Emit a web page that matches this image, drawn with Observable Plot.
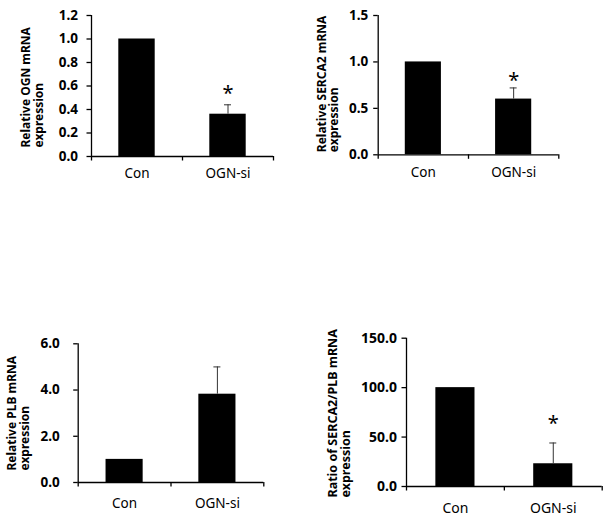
<!DOCTYPE html>
<html>
<head>
<meta charset="utf-8">
<script src="https://cdn.jsdelivr.net/npm/d3@7"></script>
<script src="https://cdn.jsdelivr.net/npm/@observablehq/plot@0.6"></script>
<style>
  html, body { margin: 0; padding: 0; background: #fff; }
  #wrap { position: relative; width: 614px; height: 522px; background: #fff; overflow: hidden; }
  .panel { position: absolute; }
  .panel svg { display: block; }
</style>
</head>
<body>
<div id="wrap"></div>
<script>
// ---- data ----
const categories = ["Con", "OGN-si"];

const ognValues = [1.0, 0.36];
const ognErrors = [0, 0.08];
const ognSignificant = [false, true];
const ognTicks = [0, 0.2, 0.4, 0.6, 0.8, 1.0, 1.2];
const ognTitle = "Relative OGN mRNA\nexpression";

const sercaValues = [1.0, 0.60];
const sercaErrors = [0, 0.12];
const sercaSignificant = [false, true];
const sercaTicks = [0, 0.5, 1.0, 1.5];
const sercaTitle = "Relative SERCA2 mRNA\nexpression";

const plbValues = [1.0, 3.82];
const plbErrors = [0, 1.18];
const plbSignificant = [false, false];
const plbTicks = [0, 2, 4, 6];
const plbTitle = "Relative PLB mRNA\nexpression";

const ratioValues = [100, 23];
const ratioErrors = [0, 21];
const ratioSignificant = [false, true];
const ratioTicks = [0, 50, 100, 150];
const ratioTitle = "Ratio of SERCA2/PLB mRNA\nexpression";

// ---- layout / style ----
const FONT = "'Noto Sans', 'DejaVu Sans', sans-serif";

function panel(cfg) {
  const n = categories.length;
  const rows = categories.map((c, i) => ({
    cat: c, i, value: cfg.values[i], err: cfg.errors[i], sig: cfg.sig[i]
  }));
  const yMax = cfg.ticks[cfg.ticks.length - 1];
  const plot = Plot.plot({
    width: cfg.W, height: cfg.H,
    marginLeft: cfg.ml, marginRight: cfg.mr, marginTop: cfg.mt, marginBottom: cfg.mb,
    style: { fontFamily: FONT, color: "#000", background: "transparent", overflow: "visible" },
    x: { type: "linear", domain: [0, n] },
    y: { type: "linear", domain: [0, yMax] },
    marks: [
      // bars
      Plot.rectY(rows, { x1: d => d.i + 0.3, x2: d => d.i + 0.7, y: "value", fill: "#000" }),
      // error bars (upper only)
      Plot.ruleX(rows.filter(d => d.err > 0), { x: d => d.i + 0.5, y1: "value", y2: d => d.value + d.err, stroke: "#333", strokeWidth: 1 }),
      Plot.ruleY(rows.filter(d => d.err > 0), { y: d => d.value + d.err, x1: d => d.i + 0.5, x2: d => d.i + 0.5, insetLeft: -3.5, insetRight: -3.5, stroke: "#333", strokeWidth: 1 }),
      // significance stars
      Plot.text(rows.filter(d => d.sig), { x: d => d.i + 0.5, y: d => d.value + d.err, text: () => "*", dy: cfg.starDy, fontSize: 20, fontFamily: FONT }),
      // axes lines
      Plot.ruleY([0], { stroke: "#000", strokeWidth: 1.3 }),
      Plot.ruleX([0], { stroke: "#000", strokeWidth: 1.3 }),
      // y ticks + labels
      Plot.axisY(cfg.ticks, { tickSize: 4.5, tickPadding: cfg.tp, tickFormat: d3.format(".1f"), fontWeight: "bold", fontSize: cfg.tickFont, strokeWidth: 1.3, label: null }),
      // x boundary ticks
      Plot.axisX(d3.range(n + 1), { tickSize: 4.5, tickFormat: () => "", strokeWidth: 1.3, label: null }),
      // category labels
      Plot.text(rows, { x: d => d.i + 0.5, frameAnchor: "bottom", text: "cat", lineAnchor: "top", dy: cfg.catDy, fontSize: cfg.catFont, fontFamily: FONT }),
      // y title
      Plot.text([cfg.title], { text: d => d, frameAnchor: "bottom-left", rotate: -90, textAnchor: "start", lineAnchor: "top", lineHeight: cfg.lh, dx: cfg.titleDx, dy: cfg.titleDy, fontWeight: "bold", fontSize: cfg.titleFont, fontFamily: FONT })
    ]
  });
  const div = document.createElement("div");
  div.className = "panel";
  div.style.left = cfg.left + "px";
  div.style.top = cfg.top + "px";
  div.appendChild(plot);
  document.getElementById("wrap").appendChild(div);
}

panel({ values: ognValues, errors: ognErrors, sig: ognSignificant, ticks: ognTicks, title: ognTitle,
  left: 0, top: 0, W: 300, H: 190, ml: 91, mr: 27, mt: 15, mb: 34,
  tp: 9, tickFont: 13.5, catFont: 13.5, catDy: 11.5, titleFont: 12, lh: 1.05, titleDx: -70.5, titleDy: -9, starDy: -11 });

panel({ values: sercaValues, errors: sercaErrors, sig: sercaSignificant, ticks: sercaTicks, title: sercaTitle,
  left: 300, top: 0, W: 314, H: 190, ml: 77.7, mr: 55.7, mt: 15, mb: 35.7,
  tp: 5.5, tickFont: 13.5, catFont: 13.5, catDy: 13, titleFont: 12, lh: 1.05, titleDx: -61.5, titleDy: -2.6, starDy: -7 });

panel({ values: plbValues, errors: plbErrors, sig: plbSignificant, ticks: plbTicks, title: plbTitle,
  left: 0, top: 300, W: 300, H: 222, ml: 77.7, mr: 36.7, mt: 43.3, mb: 40,
  tp: 14, tickFont: 13.5, catFont: 13.5, catDy: 15.5, titleFont: 12, lh: 1.05, titleDx: -71, titleDy: -12, starDy: -10 });

panel({ values: ratioValues, errors: ratioErrors, sig: ratioSignificant, ticks: ratioTicks, title: ratioTitle,
  left: 300, top: 300, W: 314, H: 222, ml: 106, mr: 12.3, mt: 37.7, mb: 36,
  tp: 5, tickFont: 14, catFont: 14, catDy: 16.5, titleFont: 12.5, lh: 1.0, titleDx: -78, titleDy: 11, starDy: -19 });
</script>
</body>
</html>
